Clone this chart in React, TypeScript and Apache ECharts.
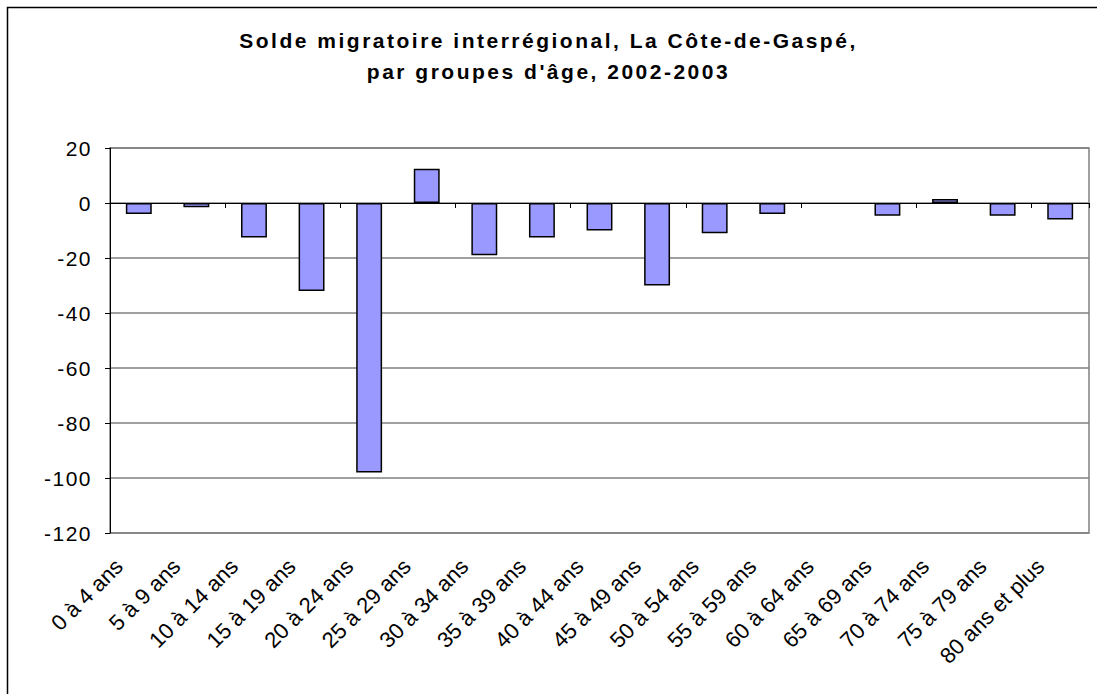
import React, { useEffect, useRef } from "react";
import * as echarts from "echarts";

const categories = [
  "0 à 4 ans", "5 à 9 ans", "10 à 14 ans", "15 à 19 ans", "20 à 24 ans",
  "25 à 29 ans", "30 à 34 ans", "35 à 39 ans", "40 à 44 ans", "45 à 49 ans",
  "50 à 54 ans", "55 à 59 ans", "60 à 64 ans", "65 à 69 ans", "70 à 74 ans",
  "75 à 79 ans", "80 ans et plus",
];
const soldeValues = [-4, -1.5, -12.5, -32, -98, 12.5, -19, -12.5, -10, -30, -11, -4, 0, -4.6, 1.5, -4.6, -6];
const titleLines = ["Solde migratoire interrégional, La Côte-de-Gaspé,", "par groupes d'âge, 2002-2003"];
const yMin = -120;
const yMax = 20;
const yStep = 20;

export default function App() {
  const ref = useRef<HTMLDivElement>(null);
  useEffect(() => {
    if (!ref.current) return;
    const chart = echarts.init(ref.current, null, { renderer: "svg" });
    const font = "'Liberation Sans', Arial, sans-serif";
    chart.setOption({
      animation: false,
      backgroundColor: "#ffffff",
      title: {
        text: titleLines.join("\n"),
        left: "center",
        top: 20,
        textStyle: {
          fontFamily: font,
          fontSize: 21,
          fontWeight: "bold",
          color: "#000",
          lineHeight: 31,
        },
      },
      graphic: [
        {
          type: "rect",
          shape: { x: 7.5, y: 7.5, width: 1200, height: 800 },
          style: { fill: "none", stroke: "#000", lineWidth: 1.5 },
          silent: true,
          z: 100,
        },
      ],
      grid: {
        left: 110,
        top: 148,
        right: 8,
        bottom: 161,
        show: true,
        borderColor: "#808080",
        borderWidth: 1.5,
        backgroundColor: "#fff",
      },
      xAxis: [
        {
          type: "category",
          data: categories,
          position: "bottom",
          axisLine: { show: false, onZero: false },
          axisTick: { show: false },
          axisLabel: {
            interval: 0,
            rotate: 45,
            margin: 10,
            padding: [0, 28, 0, 0],
            fontFamily: font,
            fontSize: 22,
            color: "#000",
          },
          splitLine: { show: false },
        },
        {
          type: "category",
          data: categories,
          position: "top",
          axisLine: { show: true, onZero: true, lineStyle: { color: "#000", width: 1 } },
          axisTick: { show: true, inside: true, length: 5, lineStyle: { color: "#000" } },
          axisLabel: { show: false },
          splitLine: { show: false },
        },
      ],
      yAxis: {
        type: "value",
        min: yMin,
        max: yMax,
        interval: yStep,
        axisLine: { show: true, lineStyle: { color: "#000", width: 1 } },
        axisTick: { show: true, length: 5, lineStyle: { color: "#000" } },
        axisLabel: {
          fontFamily: font,
          fontSize: 21,
          color: "#000",
          margin: 18,
        },
        splitLine: { show: true, lineStyle: { color: "#808080", width: 1.5 } },
      },
      series: [
        {
          type: "bar",
          xAxisIndex: 0,
          data: soldeValues.map((v) =>
            v === 0 ? { value: v, itemStyle: { borderWidth: 0 } } : v
          ),
          barWidth: "45%",
          itemStyle: { color: "#9999ff", borderColor: "#000", borderWidth: 1.5 },
        },
      ],
    });
    chart.getZr().refreshImmediately();
    const yLabelSet = new Set<string>();
    for (let v = yMin; v <= yMax; v += yStep) yLabelSet.add(String(v));
    const titleSet = new Set<string>(titleLines);
    ref.current.querySelectorAll("text").forEach((t) => {
      const s = (t.textContent || "").trim();
      if (yLabelSet.has(s)) t.setAttribute("letter-spacing", "1.5");
      else if (titleSet.has(s)) t.setAttribute("letter-spacing", "2.5");
    });
    return () => chart.dispose();
  }, []);
  return (
    <div
      ref={ref}
      style={{ position: "absolute", left: 0, top: 0, width: 1097, height: 694 }}
    />
  );
}
